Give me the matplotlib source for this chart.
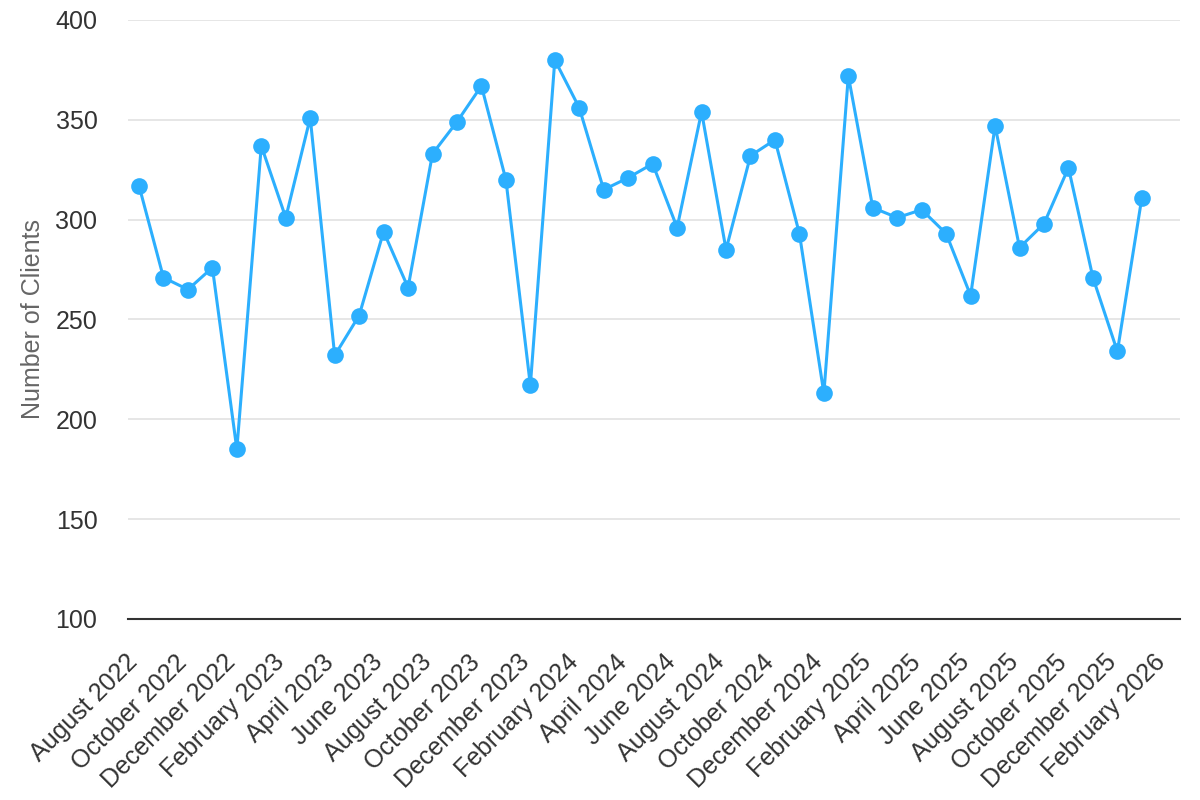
import matplotlib
matplotlib.use("Agg")
import matplotlib.pyplot as plt
import matplotlib.transforms as mtransforms

# Data
tick_labels = ["August 2022", "October 2022", "December 2022", "February 2023",
               "April 2023", "June 2023", "August 2023", "October 2023",
               "December 2023", "February 2024", "April 2024", "June 2024",
               "August 2024", "October 2024", "December 2024", "February 2025",
               "April 2025", "June 2025", "August 2025", "October 2025",
               "December 2025", "February 2026"]
clients = [317, 271, 265, 276, 185, 337, 301, 351, 232, 252, 294, 266, 333, 349,
           367, 320, 217, 380, 356, 315, 321, 328, 296, 354, 285, 332, 340, 293,
           213, 372, 306, 301, 305, 293, 262, 347, 286, 298, 326, 271, 234, 311]
y_ticks = [100, 150, 200, 250, 300, 350, 400]

plt.rcParams['font.family'] = ['Liberation Sans', 'DejaVu Sans']

fig = plt.figure(figsize=(12, 8), dpi=100)
ax = fig.add_axes([128/1200, 181/800, 1052/1200, 599/800])

x = list(range(len(clients)))
ax.plot(x, clients, color='#2caffe', lw=2.2, marker='o', markersize=12,
        markeredgewidth=0, solid_joinstyle='round', zorder=3, clip_on=False)

ax.set_ylim(100, 400)
ax.set_yticks(y_ticks)
ax.set_yticklabels([str(v) for v in y_ticks])
ax.set_xlim(-0.45, 42.56)
ax.set_xticks(list(range(0, 2 * len(tick_labels), 2)))
ax.set_xticklabels(tick_labels, rotation=45, ha='right', va='baseline',
                   rotation_mode='anchor')
offset = mtransforms.ScaledTranslation(3 / 100, 0, fig.dpi_scale_trans)
for lbl in ax.get_xticklabels():
    lbl.set_transform(lbl.get_transform() + offset)

ax.grid(axis='y', color='#e6e6e6', lw=1.4, zorder=0)
ax.grid(axis='x', visible=False)
for s in ['top', 'right', 'left']:
    ax.spines[s].set_visible(False)
ax.spines['bottom'].set_color('#333333')
ax.spines['bottom'].set_linewidth(1.5)
ax.spines['bottom'].set_zorder(4)

ax.tick_params(axis='y', length=0, pad=22, labelsize=18, labelcolor='#333333')
ax.tick_params(axis='x', length=0, pad=32, labelsize=18, labelcolor='#333333')

ax.set_ylabel('Number of Clients', fontsize=18, color='#666666')
ax.yaxis.set_label_coords(-(128 - 33) / 1052, 0.5)
ax.yaxis.label.set_va('center')

fig.savefig('out.png', dpi=100, facecolor='white')
